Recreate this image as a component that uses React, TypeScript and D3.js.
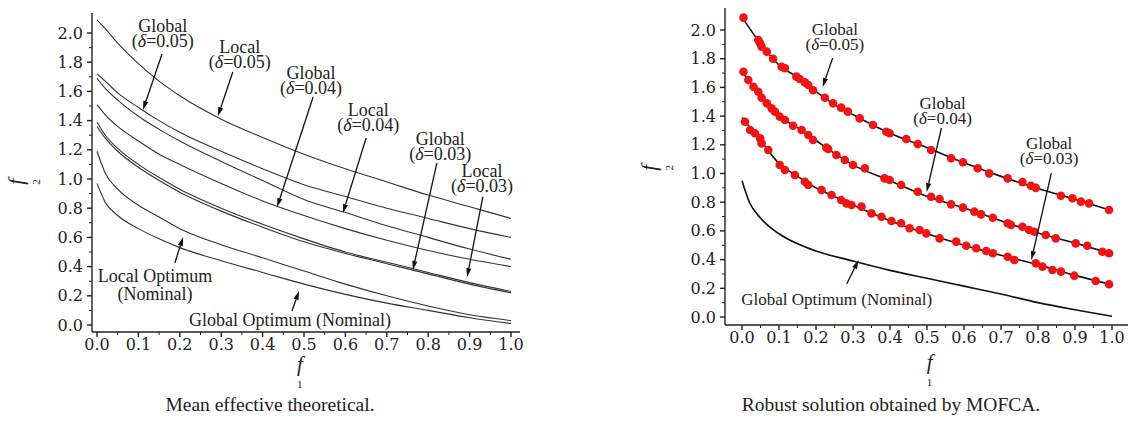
import React from "react";
import * as d3 from "d3";

// ---------- left panel: mean effective theoretical fronts ----------
const meanF1 = [0, 0.02, 0.05, 0.1, 0.15, 0.2, 0.3, 0.4, 0.5, 0.6, 0.7, 0.8, 0.9, 1.0];
const localD05 = [2.09, 2.03, 1.93, 1.79, 1.67, 1.57, 1.41, 1.285, 1.17, 1.07, 0.98, 0.89, 0.81, 0.73];
const globalD05 = [1.72, 1.67, 1.59, 1.49, 1.40, 1.32, 1.19, 1.07, 0.96, 0.88, 0.80, 0.73, 0.66, 0.60];
const globalD04 = [1.69, 1.62, 1.54, 1.43, 1.34, 1.26, 1.12, 0.99, 0.86, 0.77, 0.68, 0.60, 0.52, 0.45];
const localD04 = [1.51, 1.44, 1.36, 1.26, 1.17, 1.10, 0.97, 0.85, 0.75, 0.66, 0.58, 0.51, 0.45, 0.40];
const globalD03 = [1.39, 1.30, 1.21, 1.10, 1.01, 0.93, 0.80, 0.69, 0.59, 0.50, 0.43, 0.36, 0.29, 0.23];
const localD03 = [1.36, 1.28, 1.19, 1.08, 0.99, 0.91, 0.78, 0.67, 0.57, 0.49, 0.42, 0.35, 0.28, 0.22];
const localNominal = [1.19, 1.04, 0.93, 0.82, 0.74, 0.66, 0.55, 0.46, 0.37, 0.28, 0.20, 0.13, 0.07, 0.03];
const globalNominal = [0.97, 0.84, 0.75, 0.66, 0.59, 0.53, 0.44, 0.36, 0.28, 0.21, 0.15, 0.10, 0.05, 0.01];

// ---------- right panel: robust solution by MOFCA ----------
const robustF1 = [0, 0.05, 0.1, 0.15, 0.2, 0.25, 0.3, 0.4, 0.5, 0.6, 0.7, 0.8, 0.9, 1.0];
const robustD05 = [2.09, 1.905, 1.755, 1.67, 1.57, 1.48, 1.41, 1.28, 1.18, 1.075, 0.98, 0.895, 0.82, 0.74];
const robustD04 = [1.71, 1.54, 1.40, 1.32, 1.23, 1.14, 1.06, 0.95, 0.84, 0.76, 0.67, 0.585, 0.515, 0.44];
const robustD03 = [1.39, 1.23, 1.07, 0.98, 0.90, 0.84, 0.78, 0.67, 0.58, 0.50, 0.43, 0.365, 0.29, 0.225];
const robustNominal = [0.95, 0.80, 0.69, 0.58, 0.51, 0.46, 0.39, 0.325, 0.27, 0.215, 0.16, 0.10, 0.05, 0.005];

// MOFCA solutions [f1, f2]
const dotsD05 = [
  [0.004, 2.086], [0.044, 1.93], [0.049, 1.907], [0.053, 1.884], [0.067, 1.849], [0.084, 1.80],
  [0.107, 1.744], [0.116, 1.733], [0.147, 1.675], [0.156, 1.659], [0.170, 1.635], [0.179, 1.617],
  [0.192, 1.58], [0.224, 1.528], [0.246, 1.489], [0.268, 1.459], [0.286, 1.431], [0.318, 1.384],
  [0.354, 1.338], [0.39, 1.291], [0.399, 1.28], [0.444, 1.24], [0.475, 1.205], [0.511, 1.164],
  [0.565, 1.106], [0.597, 1.078], [0.637, 1.036], [0.668, 1.001], [0.718, 0.966], [0.758, 0.94],
  [0.781, 0.915], [0.794, 0.90], [0.862, 0.845], [0.893, 0.827], [0.916, 0.804], [0.938, 0.792],
  [0.992, 0.746],
];
const dotsD04 = [
  [0.004, 1.709], [0.017, 1.652], [0.031, 1.605], [0.044, 1.57], [0.053, 1.528], [0.067, 1.489],
  [0.08, 1.454], [0.089, 1.431], [0.102, 1.396], [0.116, 1.373], [0.138, 1.333], [0.161, 1.303],
  [0.179, 1.268], [0.192, 1.233], [0.228, 1.18], [0.233, 1.171], [0.255, 1.129], [0.278, 1.094],
  [0.30, 1.059], [0.332, 1.036], [0.385, 0.966], [0.399, 0.955], [0.43, 0.92], [0.475, 0.873],
  [0.511, 0.838], [0.534, 0.822], [0.565, 0.785], [0.597, 0.762], [0.628, 0.734], [0.646, 0.715],
  [0.678, 0.692], [0.718, 0.653], [0.727, 0.641], [0.758, 0.629], [0.776, 0.606], [0.79, 0.594],
  [0.821, 0.571], [0.848, 0.548], [0.902, 0.513], [0.933, 0.497], [0.974, 0.455], [0.992, 0.444],
];
const dotsD03 = [
  [0.008, 1.361], [0.022, 1.303], [0.035, 1.28], [0.049, 1.245], [0.053, 1.21], [0.071, 1.164],
  [0.102, 1.059], [0.116, 1.024], [0.143, 0.99], [0.17, 0.943], [0.179, 0.92], [0.215, 0.885],
  [0.242, 0.85], [0.268, 0.815], [0.282, 0.792], [0.296, 0.78], [0.323, 0.769], [0.35, 0.722],
  [0.377, 0.699], [0.404, 0.669], [0.43, 0.653], [0.453, 0.618], [0.48, 0.606], [0.498, 0.583],
  [0.534, 0.548], [0.579, 0.525], [0.606, 0.497], [0.633, 0.479], [0.66, 0.46], [0.678, 0.444],
  [0.718, 0.42], [0.736, 0.397], [0.794, 0.374], [0.812, 0.351], [0.839, 0.328], [0.862, 0.316],
  [0.898, 0.288], [0.956, 0.251], [0.992, 0.228],
];

const f1Ticks = [0, 0.1, 0.2, 0.3, 0.4, 0.5, 0.6, 0.7, 0.8, 0.9, 1.0];
const f1Minor = [0.05, 0.15, 0.25, 0.35, 0.45, 0.55, 0.65, 0.75, 0.85, 0.95];
const f2Ticks = [0, 0.2, 0.4, 0.6, 0.8, 1.0, 1.2, 1.4, 1.6, 1.8, 2.0];
const f2Minor = [0.1, 0.3, 0.5, 0.7, 0.9, 1.1, 1.3, 1.5, 1.7, 1.9];

// annotations in data units: first-line anchor, arrow tail, arrow tip
const leftNotes = [
  { lines: ["Global", "0.05"], at: [0.159, 2.007], tail: [0.157, 1.856], tip: [0.111, 1.473] },
  { lines: ["Local", "0.05"], at: [0.345, 1.863], tail: [0.328, 1.733], tip: [0.292, 1.43] },
  { lines: ["Global", "0.04"], at: [0.517, 1.685], tail: [0.522, 1.562], tip: [0.435, 0.808] },
  { lines: ["Local", "0.04"], at: [0.655, 1.432], tail: [0.650, 1.281], tip: [0.594, 0.767] },
  { lines: ["Global", "0.03"], at: [0.829, 1.233], tail: [0.821, 1.110], tip: [0.763, 0.377] },
  { lines: ["Local", "0.03"], at: [0.930, 1.014], tail: [0.932, 0.877], tip: [0.894, 0.329] },
];
const rightNotes = [
  { lines: ["Global", "0.05"], at: [0.251, 1.965], tail: [0.245, 1.805], tip: [0.218, 1.603] },
  { lines: ["Global", "0.04"], at: [0.542, 1.449], tail: [0.539, 1.317], tip: [0.499, 0.871] },
  { lines: ["Global", "0.03"], at: [0.830, 1.171], tail: [0.836, 1.003], tip: [0.782, 0.397] },
];

const serif = "'Liberation Serif', 'Times New Roman', serif";
const numFont = "'DejaVu Serif', serif";

function Arrow({ x1, y1, x2, y2 }: { x1: number; y1: number; x2: number; y2: number }) {
  const a = Math.atan2(y2 - y1, x2 - x1);
  const L = 9, w = 2.6;
  const bx = x2 - L * Math.cos(a), by = y2 - L * Math.sin(a);
  const px = -Math.sin(a) * w, py = Math.cos(a) * w;
  return (
    <g>
      <line x1={x1} y1={y1} x2={bx} y2={by} stroke="#111" strokeWidth={1.3} />
      <polygon points={`${x2},${y2} ${bx + px},${by + py} ${bx - px},${by - py}`} fill="#111" />
    </g>
  );
}

function Axes({ x, y, axisX, axisY, top, right }: any) {
  return (
    <g stroke="#222" strokeWidth={1.4}>
      <line x1={axisX} y1={top} x2={axisX} y2={axisY} />
      <line x1={axisX} y1={axisY} x2={right} y2={axisY} />
      {f2Ticks.map((t) => (
        <line key={"y" + t} x1={axisX - 5} x2={axisX} y1={y(t)} y2={y(t)} />
      ))}
      {f2Minor.map((t) => (
        <line key={"ym" + t} x1={axisX - 3} x2={axisX} y1={y(t)} y2={y(t)} strokeWidth={1} />
      ))}
      {f1Ticks.map((t) => (
        <line key={"x" + t} x1={x(t)} x2={x(t)} y1={axisY} y2={axisY + 5} />
      ))}
      {f1Minor.map((t) => (
        <line key={"xm" + t} x1={x(t)} x2={x(t)} y1={axisY} y2={axisY + 3} strokeWidth={1} />
      ))}
      <g stroke="none" fill="#222" fontFamily={numFont} fontSize={16}>
        {f2Ticks.map((t) => (
          <text key={"yl" + t} x={axisX - 9} y={y(t) + 5.5} textAnchor="end">
            {d3.format(".1f")(t)}
          </text>
        ))}
        {f1Ticks.map((t) => (
          <text key={"xl" + t} x={x(t)} y={axisY + 18} textAnchor="middle">
            {d3.format(".1f")(t)}
          </text>
        ))}
      </g>
    </g>
  );
}

function Note({ n, x, y, fs }: any) {
  const tx = x(n.at[0]), ty = y(n.at[1]);
  return (
    <g>
      <text x={tx} y={ty} textAnchor="middle" fontFamily={serif} fontSize={fs} fill="#222">
        {n.lines[0]}
      </text>
      <text x={tx} y={ty + 15} textAnchor="middle" fontFamily={serif} fontSize={fs} fill="#222">
        (<tspan fontStyle="italic">δ</tspan>={n.lines[1]})
      </text>
      <Arrow x1={x(n.tail[0])} y1={y(n.tail[1])} x2={x(n.tip[0])} y2={y(n.tip[1])} />
    </g>
  );
}

function AxisTitles({ xc, xBase, yc, yx }: any) {
  return (
    <g fontFamily={serif} fill="#222">
      <text x={xc} y={xBase} fontSize={21} fontStyle="italic" textAnchor="middle">f</text>
      <text x={xc} y={xBase + 17} fontSize={11} textAnchor="middle">1</text>
      <g transform={`translate(${yx},${yc}) rotate(-90)`}>
        <text x={0} y={7} fontSize={21} fontStyle="italic" textAnchor="middle">f</text>
        <text x={0} y={24} fontSize={11} textAnchor="middle">2</text>
      </g>
    </g>
  );
}

export default function App() {
  // left panel scales
  const xL = d3.scaleLinear().domain([0, 1]).range([97, 511]);
  const yL = d3.scaleLinear().domain([0, 2]).range([325, 33]);
  // right panel scales
  const xR = d3.scaleLinear().domain([0, 1]).range([742, 1112]);
  const yR = d3.scaleLinear().domain([0, 2]).range([317, 30]);

  const lineL = (vals: number[]) =>
    d3.line<number>().x((_, i) => xL(meanF1[i])).y((v) => yL(v)).curve(d3.curveMonotoneX)(vals) || "";
  const lineR = (grid: number[], vals: number[]) =>
    d3.line<number>().x((_, i) => xR(grid[i])).y((v) => yR(v)).curve(d3.curveMonotoneX)(vals) || "";

  const leftCurves = [localD05, globalD05, globalD04, localD04, globalD03, localD03, localNominal, globalNominal];
  const rightDots = [dotsD05, dotsD04, dotsD03];

  return (
    <div style={{ position: "absolute", left: 0, top: 0 }}>
      <svg width={1137} height={424} style={{ display: "block", background: "#fff" }}>
        {/* left */}
        <Axes x={xL} y={yL} axisX={92} axisY={332} top={13} right={520} />
        {leftCurves.map((c, i) => (
          <path key={i} d={lineL(c)} fill="none" stroke="#333" strokeWidth={1.1} />
        ))}
        {leftNotes.map((n, i) => (
          <Note key={i} n={n} x={xL} y={yL} fs={18} />
        ))}
        <g fontFamily={serif} fontSize={18} fill="#222" textAnchor="middle">
          <text x={xL(0.14)} y={yL(0.295)}>Local Optimum</text>
          <text x={xL(0.14)} y={yL(0.295) + 18}>(Nominal)</text>
          <text x={xL(0.466)} y={yL(-0.007)}>Global Optimum (Nominal)</text>
        </g>
        <Arrow x1={xL(0.188)} y1={yL(0.425)} x2={xL(0.208)} y2={yL(0.603)} />
        <Arrow x1={xL(0.471)} y1={yL(0.096)} x2={xL(0.488)} y2={yL(0.233)} />
        <AxisTitles xc={xL(0.49)} xBase={371} yc={yL(0.98)} yx={16} />
        <text x={270} y={411} textAnchor="middle" fontFamily={serif} fontSize={19.5} fill="#222">
          Mean effective theoretical.
        </text>

        {/* right */}
        <Axes x={xR} y={yR} axisX={725} axisY={325} top={8} right={1128} />
        {[robustD05, robustD04, robustD03].map((c, i) => (
          <path key={i} d={lineR(robustF1, c)} fill="none" stroke="#111" strokeWidth={1.6} />
        ))}
        <path d={lineR(meanF1, robustNominal)} fill="none" stroke="#111" strokeWidth={1.6} />
        {rightDots.map((set, k) =>
          set.map((p, i) => (
            <circle key={k + "-" + i} cx={xR(p[0])} cy={yR(p[1])} r={4.3} fill="#f01414" />
          ))
        )}
        {rightNotes.map((n, i) => (
          <Note key={i} n={n} x={xR} y={yR} fs={17} />
        ))}
        <text x={xR(0.256)} y={yR(0.084)} textAnchor="middle" fontFamily={serif} fontSize={17} fill="#222">
          Global Optimum (Nominal)
        </text>
        <Arrow x1={xR(0.283)} y1={yR(0.23)} x2={xR(0.315)} y2={yR(0.397)} />
        <AxisTitles xc={xR(0.507)} xBase={369} yc={yR(1.04)} yx={649} />
        <text x={891} y={411} textAnchor="middle" fontFamily={serif} fontSize={19.5} fill="#222">
          Robust solution obtained by MOFCA.
        </text>
      </svg>
    </div>
  );
}
